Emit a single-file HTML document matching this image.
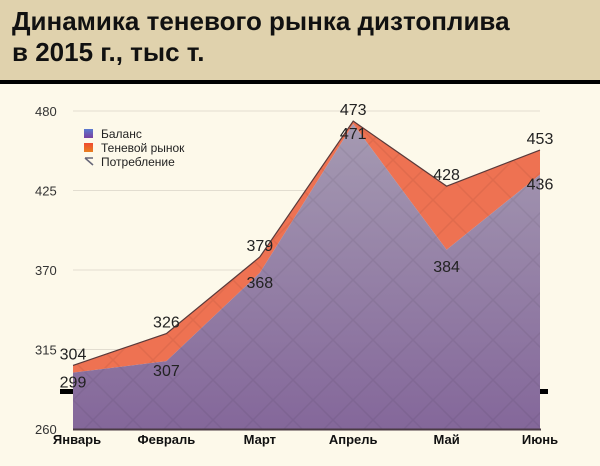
<!DOCTYPE html>
<html><head><meta charset="utf-8"><style>
body{margin:0;width:600px;height:466px;overflow:hidden;background:#fdf9ea;font-family:"Liberation Sans",sans-serif}
#hdr{position:absolute;left:0;top:0;width:600px;height:80px;background:#e0d2ad;border-bottom:4px solid #000}
#ttl{position:absolute;left:12px;top:6px;font-size:26px;font-weight:bold;line-height:31px;color:#111;margin:0}
</style></head><body>
<div id="hdr"><h1 id="ttl">Динамика теневого рынка дизтоплива<br>в 2015 г., тыс т.</h1></div>
<svg id="c" width="600" height="466" style="position:absolute;left:0;top:0">
<defs>
<linearGradient id="gp" x1="0" y1="0" x2="0" y2="1"><stop offset="0" stop-color="#a59ab2"/><stop offset="1" stop-color="#84679a"/></linearGradient>
<pattern id="dia" width="40" height="40" patternUnits="userSpaceOnUse" patternTransform="translate(73,0)"><path d="M0 0L40 40M40 0L0 40" stroke="#000" stroke-opacity="0.06" stroke-width="1.5"/></pattern>
<linearGradient id="lg1" x1="0" y1="0" x2="0" y2="1"><stop offset="0" stop-color="#5a7ad0"/><stop offset="1" stop-color="#7a3fa0"/></linearGradient>
<linearGradient id="lg2" x1="0" y1="0" x2="0" y2="1"><stop offset="0" stop-color="#f04a30"/><stop offset="1" stop-color="#e88020"/></linearGradient>
</defs>
<g id="grid"></g>
<rect x="60" y="389" width="488" height="5" fill="#000"/>
<g id="areas"></g>
<g id="labels"></g>
<g font-size="12" fill="#222">
<rect x="84" y="129" width="9" height="9" fill="url(#lg1)"/>
<text x="101" y="138">Баланс</text>
<rect x="84" y="143" width="9" height="9" fill="url(#lg2)"/>
<text x="101" y="152">Теневой рынок</text>
<path d="M85 158L93 165M85 158L93 158" stroke="#667" stroke-width="1.5"/>
<text x="101" y="166">Потребление</text>
</g>
</svg>
<script>
const months=["Январь","Февраль","Март","Апрель","Май","Июнь"];
const shadowTotal=[304,326,379,473,428,453];
const balance=[299,307,368,471,384,436];
const yTicks=[260,315,370,425,480];
const NS="http://www.w3.org/2000/svg";
const x=i=>73+i*(540-73)/5;
const y=v=>429-(v-260)*(429-111)/220;
function el(t,a,p){const e=document.createElementNS(NS,t);for(const k in a)e.setAttribute(k,a[k]);p.appendChild(e);return e;}
const g=document.getElementById('grid'),ar=document.getElementById('areas'),lb=document.getElementById('labels');
yTicks.forEach(v=>{
 if(v>260){const l=el('line',{x1:73,x2:540,y1:y(v),y2:y(v),stroke:'#e2ddd0','stroke-width':1},g);
 
 }
 const t=el('text',{x:35,y:y(v)+5,'font-size':13,fill:'#333'},g);t.textContent=v;
 
 
});
const topPts=shadowTotal.map((v,i)=>x(i)+','+y(v)).join(' ');
const balPts=balance.map((v,i)=>x(i)+','+y(v)).join(' ');
const shadowPts=topPts+' '+balance.map((v,i)=>x(i)+','+y(v)).reverse().join(' ');
const balPoly=balPts+' '+x(5)+','+y(260)+' '+x(0)+','+y(260);
let s=el('polygon',{points:shadowPts,fill:'#ee7252'},ar);


el('polygon',{points:shadowPts,fill:'url(#dia)'},ar);
let b=el('polygon',{points:balPoly,fill:'url(#gp)'},ar);


el('polygon',{points:balPoly,fill:'url(#dia)'},ar);
let tl=el('polyline',{points:topPts,fill:'none',stroke:'#5a3a3a','stroke-width':1.2},ar);


let ax=el('line',{x1:73,x2:541,y1:y(260)+0.5,y2:y(260)+0.5,stroke:'#4a3a44','stroke-width':2},ar);


months.forEach((m,i)=>{
 const t=el('text',{x:x(i)+(i==0?4:0),y:444,'text-anchor':'middle','font-size':13,'font-weight':'bold',fill:'#111'},lb);t.textContent=m;
 
 
 const a=el('text',{x:x(i),y:y(shadowTotal[i])-6,'text-anchor':'middle','font-size':16,fill:'#222'},lb);a.textContent=shadowTotal[i];
 
 
 const bb=el('text',{x:x(i),y:y(balance[i])+(i==4?22:15),'text-anchor':'middle','font-size':16,fill:'#222'},lb);bb.textContent=balance[i];
 
 
});
</script>
</body></html>
